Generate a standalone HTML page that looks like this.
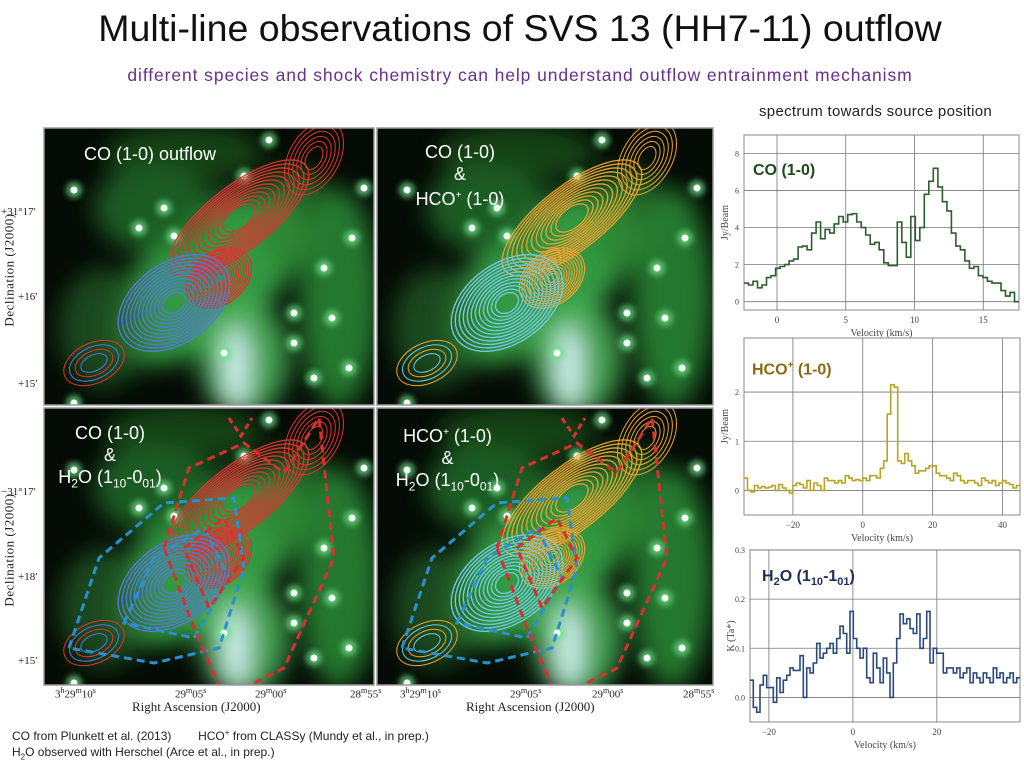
<!DOCTYPE html>
<html><head><meta charset="utf-8">
<style>
body{margin:0;width:1024px;height:768px;background:#fff;position:relative;overflow:hidden;font-family:"Liberation Sans",sans-serif}
.a{position:absolute;white-space:nowrap}
.ser{font-family:"Liberation Serif",serif;font-size:11px;color:#222}
.wt{position:absolute;color:#fff;font-size:18px;text-align:center;line-height:22px}
svg{position:absolute}
</style></head><body>
<div class="a" style="left:0;width:1040px;text-align:center;top:7px;font-size:37.5px;color:#111">Multi-line observations of SVS 13 (HH7-11) outflow</div>
<div class="a" style="left:0;width:1040px;text-align:center;top:65px;font-size:17.5px;letter-spacing:0.9px;color:#6a2f8a">different species and shock chemistry can help understand outflow entrainment mechanism</div>
<div class="a" style="left:759px;top:103px;font-size:15px;letter-spacing:0.3px;color:#222">spectrum towards source position</div>

<svg id="maps" width="720" height="700" style="left:0;top:0"></svg>

<div class="a ser" style="left:1px;top:206px">+31°17′</div>
<div class="a ser" style="left:18px;top:291px">+16′</div>
<div class="a ser" style="left:18px;top:378px">+15′</div>
<div class="a ser" style="left:-47px;top:262px;transform:rotate(-90deg);font-size:13px;letter-spacing:0.5px">Declination (J2000)</div>
<div class="a ser" style="left:1px;top:486px">−31°17′</div>
<div class="a ser" style="left:18px;top:571px">+18′</div>
<div class="a ser" style="left:18px;top:655px">+15′</div>
<div class="a ser" style="left:-47px;top:542px;transform:rotate(-90deg);font-size:13px;letter-spacing:0.5px">Declination (J2000)</div>

<div class="a ser" style="left:55px;top:686px">3<sup style="font-size:8px">h</sup>29<sup style="font-size:8px">m</sup>10<sup style="font-size:8px">s</sup></div>
<div class="a ser" style="left:175px;top:686px">29<sup style="font-size:8px">m</sup>05<sup style="font-size:8px">s</sup></div>
<div class="a ser" style="left:255px;top:686px">29<sup style="font-size:8px">m</sup>00<sup style="font-size:8px">s</sup></div>
<div class="a ser" style="left:350px;top:686px">28<sup style="font-size:8px">m</sup>55<sup style="font-size:8px">s</sup></div>
<div class="a ser" style="left:132px;top:699px;font-size:13px">Right Ascension (J2000)</div>
<div class="a ser" style="left:400px;top:686px">3<sup style="font-size:8px">h</sup>29<sup style="font-size:8px">m</sup>10<sup style="font-size:8px">s</sup></div>
<div class="a ser" style="left:510px;top:686px">29<sup style="font-size:8px">m</sup>05<sup style="font-size:8px">s</sup></div>
<div class="a ser" style="left:592px;top:686px">29<sup style="font-size:8px">m</sup>00<sup style="font-size:8px">s</sup></div>
<div class="a ser" style="left:683px;top:686px">28<sup style="font-size:8px">m</sup>55<sup style="font-size:8px">s</sup></div>
<div class="a ser" style="left:466px;top:699px;font-size:13px">Right Ascension (J2000)</div>

<div class="wt" style="left:84px;top:143px">CO (1-0) outflow</div>
<div class="wt" style="left:400px;width:120px;top:141px">CO (1-0)<br>&amp;<br>HCO<sup style="font-size:10px">+</sup> (1-0)</div>
<div class="wt" style="left:50px;width:120px;top:422px">CO (1-0)<br>&amp;<br>H<sub style="font-size:12px">2</sub>O (1<sub style="font-size:12px">10</sub>-0<sub style="font-size:12px">01</sub>)</div>
<div class="wt" style="left:385px;width:125px;top:422px">HCO<sup style="font-size:10px">+</sup> (1-0)<br>&amp;<br>H<sub style="font-size:12px">2</sub>O (1<sub style="font-size:12px">10</sub>-0<sub style="font-size:12px">01</sub>)</div>

<svg id="spec" width="1024" height="768" style="left:0;top:0"></svg>

<div class="a" style="left:753px;top:162px;font-size:16px;font-weight:bold;color:#1d4a1d">CO (1-0)</div>
<div class="a" style="left:752px;top:360px;font-size:16px;font-weight:bold;color:#8a6a14">HCO<sup style="font-size:10px">+</sup> (1-0)</div>
<div class="a" style="left:762px;top:568px;font-size:16px;font-weight:bold;color:#1f2d5a">H<sub style="font-size:11px">2</sub>O (1<sub style="font-size:11px">10</sub>-1<sub style="font-size:11px">01</sub>)</div>

<div class="a" style="left:12px;top:728px;font-size:12px;color:#222">CO from Plunkett et al. (2013) &nbsp;&nbsp;&nbsp;&nbsp;&nbsp;&nbsp; HCO<sup style="font-size:8px">+</sup> from CLASSy (Mundy et al., in prep.)</div>
<div class="a" style="left:12px;top:745px;font-size:12px;color:#222">H<sub style="font-size:8px">2</sub>O observed with Herschel (Arce et al., in prep.)</div>

<script>
// ===== spectra data =====
const coVel = [-2.4, 17.6];
const coVals = [1.0,0.9,1.1,0.75,0.9,1.3,1.4,1.8,1.9,2.0,2.2,2.3,2.95,3.0,2.8,3.7,4.3,3.4,3.9,3.7,4.2,4.6,4.3,4.7,4.75,4.3,4.0,3.6,3.1,3.2,2.8,2.1,1.95,1.95,4.3,3.2,2.4,4.6,3.3,4.0,5.8,6.5,7.2,6.2,5.4,4.9,3.7,3.0,2.8,2.2,1.8,1.9,1.4,1.3,1.1,1.0,1.0,0.6,0.3,0.5,0.0];
const coXTicks = [0,5,10,15];
const coYTicks = [0,2,4,6,8];
const hcoVel = [-34, 45];
const hcoVals = [0.25,0.0,-0.03,0.1,0.05,0.08,0.05,0.07,0.1,0.0,0.12,0.05,0.0,-0.05,0.1,0.15,0.12,0.05,0.2,0.0,0.15,0.1,0.0,0.25,0.2,0.2,0.15,0.2,0.15,0.3,0.25,0.2,0.22,0.2,0.25,0.2,0.3,0.3,0.25,0.45,0.6,1.55,2.15,2.1,0.6,0.55,0.75,0.6,0.5,0.35,0.4,0.4,0.45,0.5,0.5,0.35,0.3,0.3,0.25,0.2,0.35,0.3,0.2,0.15,0.2,0.2,0.15,0.1,0.25,0.2,0.15,0.2,0.1,0.15,0.2,0.15,0.12,0.05,0.1];
const hcoXTicks = [-20,0,20,40];
const hcoYTicks = [0,1,2];
const h2oVel = [-24.5, 39.8];
const h2oVals = [0.035,-0.02,-0.03,0.025,0.045,0.02,0.02,-0.01,0.04,0.01,0.035,0.045,0.06,0.055,0.055,0.085,0.0,0.06,0.05,0.07,0.11,0.08,0.09,0.1,0.11,0.09,0.12,0.145,0.13,0.09,0.175,0.12,0.1,0.08,0.1,0.04,0.03,0.09,0.06,0.03,0.08,0.05,0.0,0.07,0.12,0.17,0.15,0.16,0.14,0.13,0.17,0.1,0.12,0.175,0.07,0.1,0.09,0.09,0.05,0.06,0.06,0.05,0.06,0.04,0.05,0.06,0.03,0.05,0.04,0.03,0.05,0.04,0.03,0.06,0.04,0.05,0.03,0.04,0.05,0.03,0.04];
const h2oXTicks = [-20,0,20];
const h2oYTicks = [0.0,0.1,0.2,0.3];
const h2oYLabels = ['0.0','0.1','0.2','0.3'];

const NS='http://www.w3.org/2000/svg';
function mk(p,tag,attrs){const e=document.createElementNS(NS,tag);for(const k in attrs)e.setAttribute(k,attrs[k]);p.appendChild(e);return e;}
const spec=document.getElementById('spec');

function spectrum(name,box,vel,ylim,vals,xt,yt,ylab,color,ylabels){
  const g=mk(spec,'g',{});
  
  
  const [L,T,R,B]=box;
  const sx=v=>L+(v-vel[0])/(vel[1]-vel[0])*(R-L);
  const sy=v=>B-(v-ylim[0])/(ylim[1]-ylim[0])*(B-T);
  mk(g,'rect',{x:L,y:T,width:R-L,height:B-T,fill:'#fff',stroke:'#888','stroke-width':1});
  xt.forEach(t=>{mk(g,'line',{x1:sx(t),x2:sx(t),y1:T,y2:B,stroke:'#777','stroke-width':0.8});
    const tx=mk(g,'text',{x:sx(t),y:B+13,'font-size':9,'text-anchor':'middle',fill:'#444','font-family':'Liberation Serif, serif'});tx.textContent=(t<0?'−'+(-t):t);});
  yt.forEach((t,i)=>{mk(g,'line',{x1:L,x2:R,y1:sy(t),y2:sy(t),stroke:'#777','stroke-width':0.8});
    const tx=mk(g,'text',{x:L-5,y:sy(t)+3,'font-size':8,'text-anchor':'end',fill:'#444','font-family':'Liberation Serif, serif'});tx.textContent=ylabels?ylabels[i]:t;});
  const step=(vel[1]-vel[0])/vals.length;
  let d='';
  vals.forEach((v,i)=>{const x0=sx(vel[0]+i*step),x1=sx(vel[0]+(i+1)*step),y=sy(v);d+=(i?'L':'M')+x0.toFixed(1)+','+y.toFixed(1)+'L'+x1.toFixed(1)+','+y.toFixed(1);});
  const line=mk(g,'path',{d:d,fill:'none',stroke:color,'stroke-width':1.6});
  
  
  const xl=mk(g,'text',{x:(L+R)/2,y:B+26,'font-size':10,'text-anchor':'middle',fill:'#444','font-family':'Liberation Serif, serif'});xl.textContent='Velocity (km/s)';
  const yl=mk(g,'text',{x:0,y:0,'font-size':10,'text-anchor':'middle',fill:'#444','font-family':'Liberation Serif, serif',transform:`translate(${L-16},${(T+B)/2}) rotate(-90)`});yl.textContent=ylab;
}
spectrum('co-spectrum',[744,135,1019,310],coVel,[-0.45,9.0],coVals,coXTicks,coYTicks,'Jy/Beam',"#2d5e2d");
spectrum('hco-spectrum',[744,338,1020,515],hcoVel,[-0.5,3.1],hcoVals,hcoXTicks,hcoYTicks,'Jy/Beam',"#b8a420");
spectrum('h2o-spectrum',[750,550,1020,722],h2oVel,[-0.05,0.3],h2oVals,h2oXTicks,h2oYTicks,'K (Ta*)',"#2b4a7a",h2oYLabels);

// ===== maps =====
const maps=document.getElementById('maps');
const defs=mk(maps,'defs',{});
const f=mk(defs,'filter',{id:'blur',x:'-50%',y:'-50%',width:'200%',height:'200%'});mk(f,'feGaussianBlur',{stdDeviation:12});
const f2=mk(defs,'filter',{id:'blur2',x:'-50%',y:'-50%',width:'200%',height:'200%'});mk(f2,'feGaussianBlur',{stdDeviation:3});
const stars=[[30,62],[130,108],[200,48],[250,185],[288,190],[305,240],[308,110],[320,60],[180,225],[30,275],[225,12],[280,140],[95,100],[120,80],[250,215],[270,250]];
const panels=[
 {n:'map-co-outflow',x:44,y:128,w:330,h:277,a:'#e53030',b:'#5577dd',dash:false},
 {n:'map-co-hco',x:377,y:128,w:336,h:277,a:'#f0a030',b:'#70c8e0',dash:false},
 {n:'map-co-h2o',x:44,y:408,w:330,h:277,a:'#e53030',b:'#5577dd',dash:true},
 {n:'map-hco-h2o',x:377,y:408,w:336,h:277,a:'#f0a030',b:'#70c8e0',dash:true}];
panels.forEach((p,pi)=>{
  const cp=mk(defs,'clipPath',{id:'c'+pi});mk(cp,'rect',{x:p.x,y:p.y,width:p.w,height:p.h});
  const g=mk(maps,'g',{'clip-path':`url(#c${pi})`});
  
  
  mk(g,'rect',{x:p.x,y:p.y,width:p.w,height:p.h,fill:'#040a04'});
  const ox=p.x,oy=p.y;
  const neb=mk(g,'g',{filter:'url(#blur)'});
  [[165,150,115,60,-40,'#38a848',0.9],[110,80,60,45,0,'#22702a',0.8],[200,230,45,60,0,'#48b058',0.9],[295,170,40,110,0,'#2a8a36',0.85],[140,25,80,30,0,'#1c5a20',0.7],[60,200,45,60,0,'#236228',0.7],[250,90,40,50,0,'#2a8030',0.7]].forEach(e=>{
    mk(neb,'ellipse',{cx:ox+e[0],cy:oy+e[1],rx:e[2],ry:e[3],fill:e[5],opacity:e[6],transform:`rotate(${e[4]} ${ox+e[0]} ${oy+e[1]})`});});
  mk(neb,'ellipse',{cx:ox+192,cy:oy+240,rx:14,ry:42,fill:'#d8f8f8',opacity:0.95});
  stars.forEach(s=>{mk(g,'circle',{cx:ox+s[0],cy:oy+s[1],r:8,fill:'#6fe08a',opacity:0.7,filter:'url(#blur2)'});mk(g,'circle',{cx:ox+s[0],cy:oy+s[1],r:3.5,fill:'#f4fff6'});});
  for(let k=0;k<12;k++){
    mk(g,'ellipse',{cx:ox+195,cy:oy+90,rx:85-k*6,ry:32-k*2,fill:'none',stroke:p.a,'stroke-width':1.3,transform:`rotate(-38 ${ox+195} ${oy+90})`});
    mk(g,'ellipse',{cx:ox+175,cy:oy+150,rx:36-k*2.8,ry:26-k*2,fill:'none',stroke:p.a,'stroke-width':1.2,transform:`rotate(-38 ${ox+175} ${oy+150})`});
  }
  for(let k=0;k<6;k++) mk(g,'ellipse',{cx:ox+270,cy:oy+30,rx:25-k*3.5,ry:40-k*5.5,fill:'none',stroke:p.a,'stroke-width':1,transform:`rotate(30 ${ox+270} ${oy+30})`});
  for(let k=0;k<12;k++) mk(g,'ellipse',{cx:ox+130,cy:oy+175,rx:62-k*4.5,ry:40-k*2.8,fill:'none',stroke:p.b,'stroke-width':1.4,transform:`rotate(-35 ${ox+130} ${oy+175})`});
  for(let k=0;k<4;k++) mk(g,'ellipse',{cx:ox+50,cy:oy+235,rx:32-k*6,ry:20-k*4,fill:'none',stroke:k%2?p.b:p.a,'stroke-width':1,transform:`rotate(-25 ${ox+50} ${oy+235})`});
  if(p.dash){
    mk(g,'path',{d:`M${ox+25} ${oy+240} L${ox+55} ${oy+150} L${ox+120} ${oy+95} L${ox+190} ${oy+90} L${ox+200} ${oy+160} L${ox+175} ${oy+240} L${ox+110} ${oy+255} Z`,fill:'none',stroke:'#2a90d0','stroke-width':3,'stroke-dasharray':'8 5'});
    mk(g,'path',{d:`M${ox+80} ${oy+215} L${ox+110} ${oy+150} L${ox+160} ${oy+120} L${ox+185} ${oy+170} L${ox+150} ${oy+230} Z`,fill:'none',stroke:'#2a90d0','stroke-width':3,'stroke-dasharray':'8 5'});
    mk(g,'path',{d:`M${ox+120} ${oy+140} L${ox+145} ${oy+60} L${ox+200} ${oy+35} L${ox+240} ${oy+65} L${ox+275} ${oy+10} L${ox+290} ${oy+150} L${ox+240} ${oy+260} L${ox+180} ${oy+290} L${ox+150} ${oy+220} Z`,fill:'none',stroke:'#d83030','stroke-width':3,'stroke-dasharray':'8 5'});
    mk(g,'path',{d:`M${ox+140} ${oy+140} L${ox+180} ${oy+110} L${ox+200} ${oy+150} L${ox+165} ${oy+200} Z`,fill:'none',stroke:'#d83030','stroke-width':3,'stroke-dasharray':'8 5'});
    mk(g,'path',{d:`M${ox+185} ${oy+10} L${ox+197} ${oy+28} L${ox+208} ${oy+10}`,fill:'none',stroke:'#d83030','stroke-width':3,'stroke-dasharray':'6 4'});
  }
  mk(maps,'rect',{x:p.x,y:p.y,width:p.w,height:p.h,fill:'none',stroke:'#999','stroke-width':1.5});
});
</script>
</body></html>
